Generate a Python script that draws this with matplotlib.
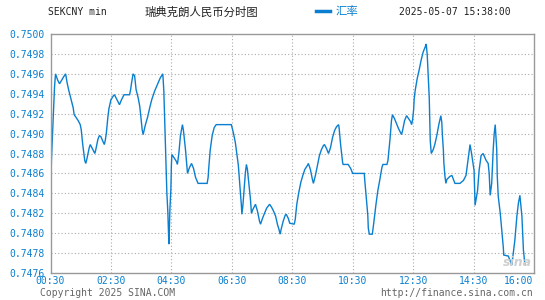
import matplotlib
matplotlib.use("Agg")
import matplotlib.pyplot as plt

# minutes after 00:30 and the SEK/CNY rate
minutes = [0, 2, 4, 6, 8, 10, 14, 18, 26, 30, 33, 36, 39, 45, 47, 55, 59, 61, 64, 66,
           68, 70, 72, 75, 77, 79, 82, 88, 90, 94, 97, 100, 105, 107, 109, 111, 114, 116, 120, 125,
           127, 131, 137, 141, 146, 157, 159, 161, 164, 167, 170, 174, 177, 179, 182, 184, 188, 193, 197, 201,
           207, 213, 218, 223, 225, 227, 229, 231, 233, 234, 235, 236, 237, 239, 240, 241, 245, 250, 252, 255,
           258, 262, 264, 268, 272, 276, 280, 284, 288, 293, 311, 313, 314, 317, 321, 325, 329, 359, 363, 367,
           371, 373, 375, 377, 379, 380, 382, 385, 387, 389, 391, 393, 395, 397, 399, 401, 407, 411, 415, 417,
           421, 425, 429, 435, 439, 443, 447, 451, 453, 456, 458, 462, 466, 468, 472, 475, 484, 486, 489, 493,
           497, 501, 505, 510, 512, 516, 520, 522, 526, 530, 534, 538, 542, 544, 548, 552, 556, 560, 564, 568,
           572, 573, 576, 580, 581, 591, 596, 600, 623, 624, 626, 628, 630, 631, 633, 639, 642, 646, 650, 654,
           658, 660, 668, 670, 671, 674, 677, 679, 683, 687, 691, 695, 697, 699, 703, 707, 711, 715, 717, 719,
           721, 722, 724, 728, 732, 736, 740, 744, 746, 748, 750, 752, 753, 754, 756, 760, 763, 767, 771, 775,
           777, 778, 780, 781, 783, 785, 787, 793, 797, 803, 813, 820, 825, 830, 833, 836, 841, 843, 848, 851,
           855, 859, 865, 869, 871, 873, 876, 879, 881, 883, 886, 887, 889, 893, 896, 899, 900, 909, 912, 916,
           922, 926, 929, 932, 936, 939, 942]
rates = [0.74839, 0.74875, 0.74900, 0.74923, 0.74947, 0.74960, 0.74954, 0.74950, 0.74957, 0.74960,
         0.74951, 0.74944, 0.74938, 0.74926, 0.74919, 0.74913, 0.74909, 0.74904, 0.74889, 0.74881,
         0.74873, 0.74870, 0.74874, 0.74881, 0.74886, 0.74889, 0.74886, 0.74880, 0.74884, 0.74894,
         0.74898, 0.74897, 0.74891, 0.74889, 0.74894, 0.74901, 0.74917, 0.74925, 0.74934, 0.74938,
         0.74939, 0.74935, 0.74929, 0.74934, 0.74939, 0.74939, 0.74944, 0.74951, 0.74960, 0.74958,
         0.74944, 0.74936, 0.74928, 0.74919, 0.74904, 0.74899, 0.74908, 0.74917, 0.74926, 0.74934,
         0.74943, 0.74950, 0.74956, 0.74960, 0.74943, 0.74908, 0.74874, 0.74841, 0.74821, 0.74804,
         0.74789, 0.74804, 0.74823, 0.74844, 0.74868, 0.74879, 0.74876, 0.74872, 0.74869, 0.74881,
         0.74898, 0.74909, 0.74903, 0.74884, 0.74860, 0.74866, 0.74870, 0.74865, 0.74856, 0.74850,
         0.74850, 0.74856, 0.74864, 0.74883, 0.74898, 0.74906, 0.74909, 0.74909, 0.74901, 0.74891,
         0.74876, 0.74868, 0.74854, 0.74841, 0.74828, 0.74819, 0.74828, 0.74848, 0.74861, 0.74869,
         0.74864, 0.74854, 0.74844, 0.74834, 0.74820, 0.74823, 0.74829, 0.74822, 0.74812, 0.74809,
         0.74815, 0.74820, 0.74825, 0.74829, 0.74826, 0.74822, 0.74817, 0.74808, 0.74805, 0.74799,
         0.74804, 0.74812, 0.74818, 0.74819, 0.74815, 0.74810, 0.74809, 0.74814, 0.74829, 0.74841,
         0.74851, 0.74858, 0.74864, 0.74868, 0.74870, 0.74864, 0.74854, 0.74850, 0.74858, 0.74868,
         0.74878, 0.74884, 0.74888, 0.74889, 0.74885, 0.74880, 0.74886, 0.74896, 0.74903, 0.74907,
         0.74909, 0.74906, 0.74889, 0.74871, 0.74869, 0.74869, 0.74865, 0.74860, 0.74860, 0.74853,
         0.74841, 0.74829, 0.74818, 0.74805, 0.74799, 0.74799, 0.74811, 0.74828, 0.74843, 0.74854,
         0.74866, 0.74869, 0.74869, 0.74873, 0.74878, 0.74894, 0.74913, 0.74919, 0.74915, 0.74910,
         0.74905, 0.74901, 0.74899, 0.74903, 0.74913, 0.74918, 0.74915, 0.74912, 0.74909, 0.74914,
         0.74924, 0.74934, 0.74943, 0.74955, 0.74964, 0.74974, 0.74982, 0.74987, 0.74990, 0.74979,
         0.74958, 0.74936, 0.74914, 0.74893, 0.74880, 0.74884, 0.74889, 0.74898, 0.74909, 0.74918,
         0.74911, 0.74899, 0.74884, 0.74871, 0.74858, 0.74850, 0.74854, 0.74857, 0.74858, 0.74850,
         0.74850, 0.74853, 0.74858, 0.74877, 0.74889, 0.74880, 0.74863, 0.74828, 0.74843, 0.74863,
         0.74878, 0.74880, 0.74873, 0.74870, 0.74860, 0.74838, 0.74850, 0.74884, 0.74900, 0.74909,
         0.74884, 0.74858, 0.74837, 0.74820, 0.74803, 0.74786, 0.74778, 0.74777, 0.74773, 0.74768,
         0.74793, 0.74817, 0.74830, 0.74838, 0.74817, 0.74783, 0.74768]

xtick_pos = [0, 120, 240, 360, 480, 600, 720, 840, 930]
xtick_labels = ['00:30', '02:30', '04:30', '06:30', '08:30', '10:30', '12:30', '14:30', '16:00']
ytick_vals = [0.7476, 0.7478, 0.7480, 0.7482, 0.7484, 0.7486, 0.7488,
              0.7490, 0.7492, 0.7494, 0.7496, 0.7498, 0.7500]

BLUE = '#0a7fcf'
MONO = 'DejaVu Sans Mono'
CJK = ['Noto Sans CJK SC', 'DejaVu Sans']

fig = plt.figure(figsize=(5.45, 3.0), dpi=100)
fig.patch.set_facecolor('white')
ax = fig.add_axes([50.5 / 545, 1 - 273 / 300, (534 - 50.5) / 545, (273 - 34) / 300])

ax.plot(minutes, rates, color=BLUE, lw=1.0, solid_joinstyle='miter')

ax.set_xlim(0, 960)
ax.set_ylim(0.7476, 0.7500)

# dotted grid
for yv in ytick_vals[1:-1]:
    ax.axhline(yv, color='#aaaaaa', lw=0.8, ls=(0, (1, 2)), zorder=0)
for xv in xtick_pos[1:-1]:
    ax.axvline(xv, color='#aaaaaa', lw=0.8, ls=(0, (1, 2)), zorder=0)

ax.set_yticks(ytick_vals)
ax.set_yticklabels(['%.4f' % v for v in ytick_vals])
ax.set_xticks(xtick_pos)
ax.set_xticklabels(xtick_labels)
ax.tick_params(axis='both', length=0, labelsize=7, labelcolor=BLUE)
ax.tick_params(axis='y', pad=4.5)
ax.tick_params(axis='x', pad=2.5)
for lab in ax.get_xticklabels() + ax.get_yticklabels():
    lab.set_family(MONO)

for sp in ax.spines.values():
    sp.set_color('#999999')
    sp.set_linewidth(1.0)

# header row
fig.text(48 / 545, 1 - 12 / 300, 'SEKCNY min', family=MONO, fontsize=7,
         color='#222222', va='center', ha='left')
fig.text(145 / 545, 1 - 12 / 300, '瑞典克朗人民币分时图', family=CJK, fontsize=8.2,
         color='#222222', va='center', ha='left')
fig.add_artist(plt.Line2D([316 / 545, 330 / 545], [1 - 11 / 300, 1 - 11 / 300],
                          color=BLUE, lw=2.5, transform=fig.transFigure))
fig.text(336 / 545, 1 - 12 / 300, '汇率', family=CJK, fontsize=8.2,
         color=BLUE, va='center', ha='left')
fig.text(511 / 545, 1 - 12 / 300, '2025-05-07 15:38:00', family=MONO, fontsize=7,
         color='#222222', va='center', ha='right')

# footer row
fig.text(40 / 545, 1 - 293 / 300, 'Copyright 2025 SINA.COM', family=MONO, fontsize=7,
         color='#666666', va='center', ha='left')
fig.text(533 / 545, 1 - 293 / 300, 'http://finance.sina.com.cn', family=MONO, fontsize=7,
         color='#666666', va='center', ha='right')

# faint watermark
fig.text(532 / 545, 1 - 262 / 300, 'sina', fontsize=9, style='italic', weight='bold',
         color='#cfcfcf', va='center', ha='right', zorder=0)

fig.savefig('out.png', dpi=100)
